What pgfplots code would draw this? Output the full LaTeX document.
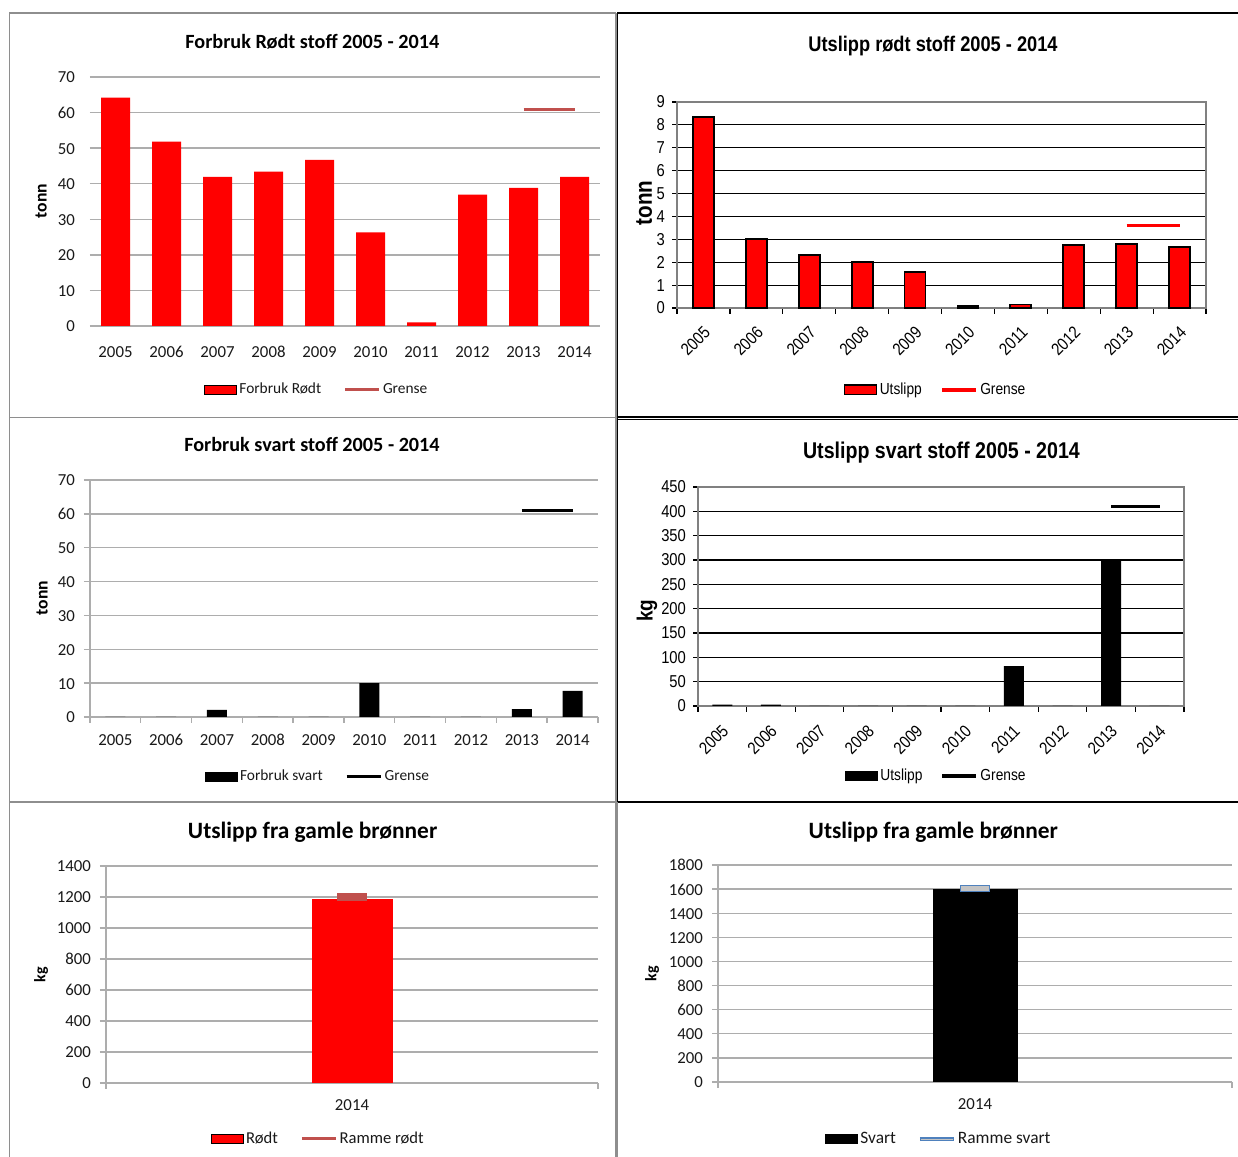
\documentclass[border=0pt]{standalone}
\usepackage{pgfplots}
\pgfplotsset{compat=1.18}
\usepackage{fontspec}
\setmainfont{Carlito}
\newfontfamily\narrow[FakeStretch=0.86]{Liberation Sans}

\definecolor{barred}{HTML}{FF0000}
\definecolor{grenseA}{HTML}{C0504D}
\definecolor{gridA}{HTML}{ADADAD}
\definecolor{frameA}{HTML}{8E8E8E}
\definecolor{boxA}{HTML}{808080}
\definecolor{rammeblue}{HTML}{4F81BD}
\definecolor{rammegray}{HTML}{C4C4C4}

\pgfplotsset{
  /pgf/number format/assume math mode=true,
  every axis title shift=0pt,
  base/.style={
    scale only axis, anchor=south west, clip=false,
    ymin=0,
    /pgf/number format/1000 sep={},
    legend columns=2,
    legend cell align=left,
  },
  years/.style={
    xmin=-0.5, xmax=9.5,
    xtick={0,...,9},
    xticklabels={2005,2006,2007,2008,2009,2010,2011,2012,2013,2014},
  },
  calibri/.style={
    tick label style={font=\fontsize{8.4}{10}\selectfont, text=black!90},
    typeset ticklabels with strut,
    yticklabel style={yshift=-1pt},
    title style={anchor=center, font=\bfseries\fontsize{10.1}{12}\selectfont},
    ylabel style={anchor=center, font=\bfseries\fontsize{8.8}{10}\selectfont},
    legend style={draw=none, fill=none, anchor=center, inner sep=0pt,
      font=\fontsize{7.7}{9}\selectfont, text=black!90,
      nodes={inner sep=1.2pt},
      /tikz/every even column/.append style={column sep=10pt}},
  },
  arialn/.style={
    tick label style={font=\narrow\fontsize{8.6}{10}\selectfont},
    ylabel style={anchor=center, font=\narrow\bfseries\fontsize{12}{14}\selectfont},
    legend style={draw=none, fill=none, anchor=center, inner sep=0pt,
      font=\narrow\fontsize{8}{9}\selectfont,
      nodes={inner sep=1.2pt},
      /tikz/every even column/.append style={column sep=8pt}},
  },
  barlegend/.style={legend image code/.code={
      \draw[##1] (0pt,-2.3pt) rectangle (16pt,2.3pt);}},
  linelegend/.style={legend image code/.code={
      \draw[##1] (0pt,0pt) -- (17pt,0pt);}},
}

\begin{document}
\begin{tikzpicture}
% page area and panel frames
\path[use as bounding box, fill=white] (0pt,0pt) rectangle (619pt,578.5pt);
\begin{scope}[line width=0.75pt, frameA]
  \draw (4.75pt,0pt) -- (4.75pt,572pt) -- (308pt,572pt);
  \draw (308pt,0pt) -- (308pt,572pt);
  \draw (4.75pt,369.75pt) -- (308pt,369.75pt);
  \draw (4.75pt,177.5pt) -- (308pt,177.5pt);
  \draw (308.6pt,0pt) -- (308.6pt,177.5pt);
\end{scope}
\begin{scope}[line width=0.75pt, black]
  \draw (308.8pt,177.5pt) -- (308.8pt,572pt) -- (619pt,572pt);
  \draw (308.8pt,370pt) -- (619pt,370pt);
  \draw (308.8pt,368.75pt) -- (619pt,368.75pt);
  \draw (308.8pt,177.5pt) -- (619pt,177.5pt);
\end{scope}

% ---------- Forbruk rodt stoff ----------
\begin{axis}[base, years, calibri,
  at={(45pt,415.5pt)}, width=255pt, height=124.5pt,
  ymax=70, ytick={0,10,...,70},
  axis line style={draw=none}, major tick length=0pt,
  ymajorgrids, grid style={gridA, line width=0.7pt},
  yticklabel style={xshift=-4pt},
  xticklabel style={yshift=-5pt},
  title={Forbruk Rødt stoff 2005 - 2014},
  title style={at={(0.436,1.141)}},
  ylabel={tonn}, ylabel style={at={(-0.096,0.502)}},
  legend style={at={(0.445,-0.257)}},
]
\addplot[ybar, bar width=14.5pt, fill=barred, draw=none, barlegend]
  coordinates {(0,64.2) (1,51.8) (2,41.9) (3,43.4) (4,46.7)
               (5,26.3) (6,1.0) (7,36.9) (8,38.8) (9,41.9)};
\addlegendentry{Forbruk Rødt}
\addplot[grenseA, line width=1.5pt, sharp plot, linelegend]
  coordinates {(8,61) (9,61)};
\addlegendentry{Grense}
\end{axis}

% ---------- Utslipp rodt stoff ----------
\begin{axis}[base, years, arialn,
  at={(338.5pt,424.5pt)}, width=264.5pt, height=103pt,
  ymax=9, ytick={0,...,9},
  minor xtick={-0.5,0.5,...,9.5},
  axis line style={boxA, line width=0.8pt},
  ymajorgrids, grid style={black, line width=0.6pt},
  tick align=outside, xtick pos=bottom, ytick pos=left,
  major x tick style={draw=none},
  minor x tick style={black, line width=0.6pt},
  ytick style={black, line width=0.6pt},
  major tick length=2.5pt, minor tick length=3pt,
  xticklabel style={rotate=45, anchor=north east, xshift=-1pt, yshift=-0.5pt},
  title={Utslipp rødt stoff 2005 - 2014},
  title style={at={(0.484,1.272)}, anchor=center, font=\narrow\bfseries\fontsize{10.6}{12}\selectfont},
  ylabel={tonn}, ylabel style={at={(-0.062,0.51)}},
  legend style={at={(0.489,-0.398)}},
]
\addplot[ybar, bar width=10.5pt, fill=barred, draw=black, line width=0.9pt, barlegend]
  coordinates {(0,8.35) (1,3.0) (2,2.3) (3,2.0) (4,1.56)
               (5,0.07) (6,0.15) (7,2.74) (8,2.79) (9,2.65)};
\addlegendentry{Utslipp}
\addplot[barred, line width=1.8pt, sharp plot, linelegend]
  coordinates {(8,3.6) (9,3.6)};
\addlegendentry{Grense}
\end{axis}

% ---------- Forbruk svart stoff ----------
\begin{axis}[base, years, calibri,
  at={(45pt,220pt)}, width=254pt, height=118.5pt,
  ymax=70, ytick={0,10,...,70},
  minor xtick={-0.5,0.5,...,9.5},
  axis x line*=bottom, axis y line*=left,
  axis line style={gridA, line width=0.7pt},
  ymajorgrids, grid style={gridA, line width=0.7pt},
  tick align=outside,
  major x tick style={draw=none},
  minor x tick style={gridA, line width=0.7pt},
  ytick style={gridA, line width=0.7pt},
  major tick length=3pt, minor tick length=3pt,
  yticklabel style={xshift=-1pt},
  xticklabel style={yshift=-0.8pt},
  title={Forbruk svart stoff 2005 - 2014},
  title style={at={(0.437,1.148)}},
  ylabel={tonn}, ylabel style={at={(-0.094,0.502)}},
  legend style={at={(0.449,-0.253)}},
]
\addplot[ybar, bar width=10pt, fill=black, draw=none, barlegend]
  coordinates {(0,0) (1,0) (2,2.1) (3,0) (4,0)
               (5,10) (6,0) (7,0) (8,2.3) (9,7.7)};
\addlegendentry{Forbruk svart}
\addplot[black, line width=1.5pt, sharp plot, linelegend]
  coordinates {(8,61) (9,61)};
\addlegendentry{Grense}
\end{axis}

% ---------- Utslipp svart stoff ----------
\begin{axis}[base, years, arialn,
  at={(349pt,225.5pt)}, width=243pt, height=109.5pt,
  ymax=450, ytick={0,50,...,450},
  minor xtick={-0.5,0.5,...,9.5},
  axis line style={boxA, line width=0.8pt},
  ymajorgrids, grid style={black, line width=0.55pt},
  tick align=outside, xtick pos=bottom, ytick pos=left,
  major x tick style={draw=none},
  minor x tick style={black, line width=0.6pt},
  ytick style={black, line width=0.6pt},
  major tick length=2.5pt, minor tick length=3pt,
  xticklabel style={rotate=45, anchor=north east, xshift=-1.5pt, yshift=-0.5pt},
  title={Utslipp svart stoff 2005 - 2014},
  title style={at={(0.501,1.155)}, anchor=center, font=\narrow\bfseries\fontsize{11.4}{13}\selectfont},
  ylabel={kg}, ylabel style={at={(-0.105,0.434)}, font=\narrow\bfseries\fontsize{11}{13}\selectfont},
  legend style={at={(0.491,-0.32)}},
]
\addplot[ybar, bar width=10pt, fill=black, draw=none, barlegend]
  coordinates {(0,3) (1,3) (2,0) (3,0) (4,0)
               (5,0) (6,82) (7,0) (8,302) (9,0)};
\addlegendentry{Utslipp}
\addplot[black, line width=1.6pt, sharp plot, linelegend]
  coordinates {(8,410) (9,410)};
\addlegendentry{Grense}
\end{axis}

% ---------- Utslipp fra gamle bronner (rodt) ----------
\begin{axis}[base, calibri,
  at={(53pt,37pt)}, width=246pt, height=108.5pt,
  xmin=-0.5, xmax=0.5, xtick={0}, xticklabels={2014},
  minor xtick={-0.5,0.5},
  ymax=1400, ytick={0,200,...,1400},
  axis x line*=bottom, axis y line*=left,
  axis line style={gridA, line width=0.7pt},
  ymajorgrids, grid style={gridA, line width=0.7pt},
  tick align=outside,
  major x tick style={draw=none},
  minor x tick style={gridA, line width=0.7pt},
  ytick style={gridA, line width=0.7pt},
  major tick length=3pt, minor tick length=3pt,
  yticklabel style={xshift=-1pt},
  xticklabel style={yshift=0pt},
  title={Utslipp fra gamle brønner},
  title style={at={(0.42,1.157)}, font=\bfseries\fontsize{11.7}{14}\selectfont},
  ylabel={kg}, ylabel style={at={(-0.132,0.498)}, font=\bfseries\fontsize{8}{10}\selectfont},
  legend style={at={(0.432,-0.258)}, font=\fontsize{8.3}{10}\selectfont},
]
\addplot[ybar, bar width=40.5pt, fill=barred, draw=none, barlegend]
  coordinates {(0,1190)};
\addlegendentry{Rødt}
\addplot[only marks, mark=square*, mark size=1.7pt,
  mark options={xscale=4.4, fill=grenseA, draw=grenseA, line width=0pt},
  legend image code/.code={\draw[grenseA, line width=1.5pt] (0pt,0pt) -- (17pt,0pt);}]
  coordinates {(0,1200)};
\addlegendentry{Ramme rødt}
\end{axis}

% ---------- Utslipp fra gamle bronner (svart) ----------
\begin{axis}[base, calibri,
  at={(359pt,37.5pt)}, width=257pt, height=108.5pt,
  xmin=-0.5, xmax=0.5, xtick={0}, xticklabels={2014},
  minor xtick={-0.5,0.5},
  ymax=1800, ytick={0,200,...,1800},
  axis x line*=bottom, axis y line*=left,
  axis line style={gridA, line width=0.7pt},
  ymajorgrids, grid style={gridA, line width=0.7pt},
  tick align=outside,
  major x tick style={draw=none},
  minor x tick style={gridA, line width=0.7pt},
  ytick style={gridA, line width=0.7pt},
  major tick length=3pt, minor tick length=3pt,
  yticklabel style={xshift=-1pt},
  xticklabel style={yshift=0pt},
  title={Utslipp fra gamle brønner},
  title style={at={(0.419,1.152)}, font=\bfseries\fontsize{11.7}{14}\selectfont},
  ylabel={kg}, ylabel style={at={(-0.128,0.498)}, font=\bfseries\fontsize{8}{10}\selectfont},
  legend style={at={(0.43,-0.263)}, font=\fontsize{8.7}{10}\selectfont},
]
\addplot[ybar, bar width=42.5pt, fill=black, draw=none, barlegend]
  coordinates {(0,1600)};
\addlegendentry{Svart}
\addplot[only marks, mark=square*, mark size=1.6pt,
  mark options={xscale=4.5, fill=rammegray, draw=rammeblue, line width=0.6pt},
  legend image code/.code={\draw[rammeblue, line width=1.6pt] (0pt,0pt) -- (17pt,0pt);
    \draw[rammegray, line width=0.5pt] (0.6pt,0pt) -- (16.4pt,0pt);}]
  coordinates {(0,1605)};
\addlegendentry{Ramme svart}
\end{axis}
\end{tikzpicture}
\end{document}
